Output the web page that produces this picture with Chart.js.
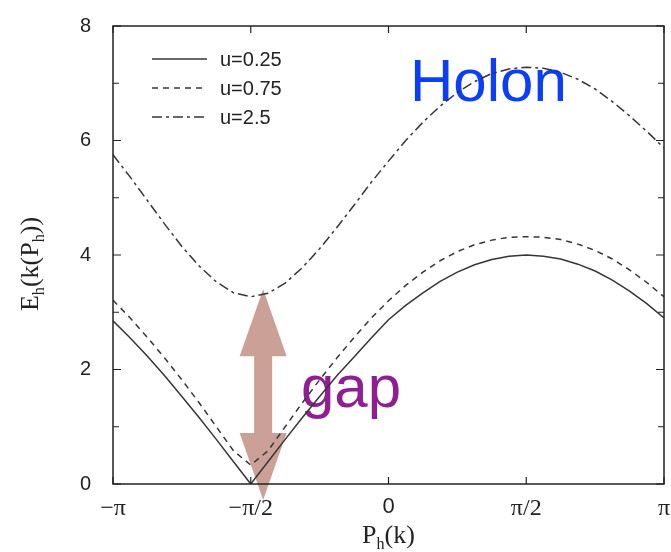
<!DOCTYPE html>
<html>
<head>
<meta charset="utf-8">
<script src="https://cdn.jsdelivr.net/npm/chart.js@4.4.1/dist/chart.umd.min.js"></script>
<style>
  html, body { margin: 0; padding: 0; background: #fff; }
  canvas { display: block; }
</style>
</head>
<body>
<canvas id="chart" width="671" height="552"></canvas>
<script>
// momentum P_h(k), in units of pi
const momentum = [-1, -0.9375, -0.875, -0.8125, -0.75, -0.6875, -0.625, -0.5625, -0.5,
  -0.4375, -0.375, -0.3125, -0.25, -0.1875, -0.125, -0.0625, 0,
  0.0625, 0.125, 0.1875, 0.25, 0.3125, 0.375, 0.4375, 0.5,
  0.5625, 0.625, 0.6875, 0.75, 0.8125, 0.875, 0.9375, 1];

const seriesLabels = ["u=0.25", "u=0.75", "u=2.5"];

// holon energy E_h for each u
const energyU025 = [2.85, 2.55, 2.23, 1.89, 1.53, 1.16, 0.78, 0.39, 0,
  0.39, 0.78, 1.16, 1.53, 1.89, 2.22, 2.55, 2.87,
  3.12, 3.34, 3.54, 3.70, 3.83, 3.92, 3.98, 4.00,
  3.98, 3.93, 3.84, 3.72, 3.56, 3.37, 3.15, 2.90];
const energyU075 = [3.21, 2.90, 2.56, 2.20, 1.82, 1.42, 1.00, 0.58, 0.33,
  0.58, 1.00, 1.42, 1.82, 2.20, 2.56, 2.90, 3.20,
  3.47, 3.70, 3.90, 4.06, 4.18, 4.26, 4.31, 4.32,
  4.31, 4.27, 4.19, 4.08, 3.93, 3.74, 3.52, 3.27];
const energyU25 = [5.75, 5.36, 4.95, 4.54, 4.15, 3.81, 3.53, 3.34, 3.27,
  3.33, 3.51, 3.78, 4.11, 4.48, 4.87, 5.27, 5.64,
  6.00, 6.32, 6.60, 6.84, 7.03, 7.17, 7.25, 7.28,
  7.26, 7.19, 7.07, 6.90, 6.68, 6.43, 6.16, 5.87];

const xTickLabels = ["−π", "−π/2", "0", "π/2", "π"];
const yTickLabels = ["0", "", "2", "", "4", "", "6", "", "8"];

const lineStyles = [[], [6, 5], [10, 4, 3, 4]];

// gap arrow at the u=2.5 minimum, in data units
const gapArrow = { k: -0.455, from: -0.28, to: 3.4 };

const toPoints = (ys) => momentum.map((k, i) => ({ x: k, y: ys[i] }));

const datasets = [energyU025, energyU075, energyU25].map((ys, i) => ({
  label: seriesLabels[i],
  data: toPoints(ys),
  borderColor: "#363636",
  borderWidth: 1.5,
  borderDash: lineStyles[i],
  pointRadius: 0,
  tension: 0,
  fill: false,
}));

function drawSubText(ctx, parts, size) {
  // parts: [text, isSubscript]
  let x = 0;
  parts.forEach(([txt, sub]) => {
    ctx.font = (sub ? size * 0.62 : size) + "px 'Liberation Serif', serif";
    ctx.fillText(txt, x, sub ? size * 0.22 : 0);
    x += ctx.measureText(txt).width;
  });
  return x;
}
function measureSubText(ctx, parts, size) {
  let w = 0;
  parts.forEach(([txt, sub]) => {
    ctx.font = (sub ? size * 0.62 : size) + "px 'Liberation Serif', serif";
    w += ctx.measureText(txt).width;
  });
  return w;
}

const annotations = {
  id: "annotations",
  beforeDatasetsDraw(chart) {
    const { ctx, scales: { x, y } } = chart;
    ctx.save();
    // double-headed arrow
    const cx = x.getPixelForValue(gapArrow.k);
    const top = y.getPixelForValue(gapArrow.to);
    const bot = y.getPixelForValue(gapArrow.from);
    const head = 67, hw = 23.5, sw = 9;
    ctx.fillStyle = "rgb(203,160,150)";
    ctx.beginPath();
    ctx.moveTo(cx, top);
    ctx.lineTo(cx + hw, top + head);
    ctx.lineTo(cx + sw, top + head);
    ctx.lineTo(cx + sw, bot - head);
    ctx.lineTo(cx + hw, bot - head);
    ctx.lineTo(cx, bot);
    ctx.lineTo(cx - hw, bot - head);
    ctx.lineTo(cx - sw, bot - head);
    ctx.lineTo(cx - sw, top + head);
    ctx.lineTo(cx - hw, top + head);
    ctx.closePath();
    ctx.fill();

    ctx.textBaseline = "alphabetic";
    ctx.textAlign = "left";
    ctx.font = "60px 'Liberation Sans', Arial, sans-serif";
    ctx.fillStyle = "rgb(12,62,250)";
    ctx.fillText("Holon", x.getPixelForValue(0.078), y.getPixelForValue(6.69));
    ctx.fillStyle = "rgb(142,30,146)";
    ctx.fillText("gap", x.getPixelForValue(-0.318), y.getPixelForValue(1.345));
    ctx.restore();
  },
  afterDraw(chart) {
    const { ctx, chartArea: a, scales: { x, y } } = chart;
    ctx.save();
    ctx.strokeStyle = "#222";
    ctx.lineWidth = 1.5;
    ctx.strokeRect(a.left, a.top, a.right - a.left, a.bottom - a.top);

    // inward tick marks on all four sides
    ctx.lineWidth = 1.2;
    ctx.beginPath();
    y.ticks.forEach((t) => {
      const py = y.getPixelForValue(t.value);
      const len = t.value % 2 === 0 ? 8 : 6;
      ctx.moveTo(a.left, py); ctx.lineTo(a.left + len, py);
      ctx.moveTo(a.right, py); ctx.lineTo(a.right - len, py);
    });
    x.ticks.forEach((t) => {
      const px = x.getPixelForValue(t.value);
      ctx.moveTo(px, a.bottom); ctx.lineTo(px, a.bottom - 7);
      ctx.moveTo(px, a.top); ctx.lineTo(px, a.top + 7);
    });
    ctx.stroke();

    // legend
    ctx.font = "20px 'Liberation Sans', Arial, sans-serif";
    ctx.textBaseline = "middle";
    ctx.fillStyle = "#222";
    chart.data.datasets.forEach((ds, i) => {
      const ly = a.top + 33 + i * 29;
      ctx.strokeStyle = ds.borderColor;
      ctx.lineWidth = ds.borderWidth;
      ctx.setLineDash(ds.borderDash);
      ctx.beginPath();
      ctx.moveTo(a.left + 39, ly);
      ctx.lineTo(a.left + 94, ly);
      ctx.stroke();
      ctx.setLineDash([]);
      ctx.fillText(ds.label, a.left + 107, ly + 1);
    });

    // axis titles
    ctx.fillStyle = "#222";
    ctx.textBaseline = "alphabetic";
    ctx.textAlign = "left";
    const xt = [["P", false], ["h", true], ["(k)", false]];
    const xw = measureSubText(ctx, xt, 26);
    ctx.save();
    ctx.translate((a.left + a.right) / 2 - xw / 2, 543);
    drawSubText(ctx, xt, 26);
    ctx.restore();

    const yt = [["E", false], ["h", true], ["(k(P", false], ["h", true], ["))", false]];
    const yw = measureSubText(ctx, yt, 26);
    ctx.save();
    ctx.translate(38, 264 + yw / 2);
    ctx.rotate(-Math.PI / 2);
    drawSubText(ctx, yt, 26);
    ctx.restore();
    ctx.restore();
  },
};

new Chart(document.getElementById("chart"), {
  type: "line",
  data: { datasets },
  options: {
    responsive: false,
    animation: false,
    devicePixelRatio: 1,
    layout: { padding: { top: 26, right: 7, left: 0, bottom: 0 } },
    plugins: { legend: { display: false }, tooltip: { enabled: false } },
    scales: {
      x: {
        type: "linear",
        min: -1,
        max: 1,
        grid: { display: false },
        border: { display: false },
        afterFit: (scale) => {
          scale.height = 68;
          scale.paddingLeft = 0;
          scale.paddingRight = 0;
        },
        ticks: {
          stepSize: 0.5,
          padding: 2,
          color: "#222",
          maxRotation: 0,
          font: (c) => c.tick && c.tick.value === 0
            ? { family: "'Liberation Sans', Arial, sans-serif", size: 22 }
            : { family: "'Liberation Serif', serif", size: 24 },
          callback: (v) => xTickLabels[Math.round((v + 1) / 0.5)],
        },
      },
      y: {
        min: 0,
        max: 8,
        grid: { display: false },
        border: { display: false },
        afterFit: (scale) => {
          scale.width = 113;
          scale.paddingTop = 0;
          scale.paddingBottom = 0;
        },
        ticks: {
          stepSize: 1,
          padding: 14,
          color: "#222",
          font: { family: "'Liberation Sans', Arial, sans-serif", size: 20 },
          callback: (v) => yTickLabels[Math.round(v)],
        },
      },
    },
  },
  plugins: [annotations],
});
</script>
</body>
</html>
